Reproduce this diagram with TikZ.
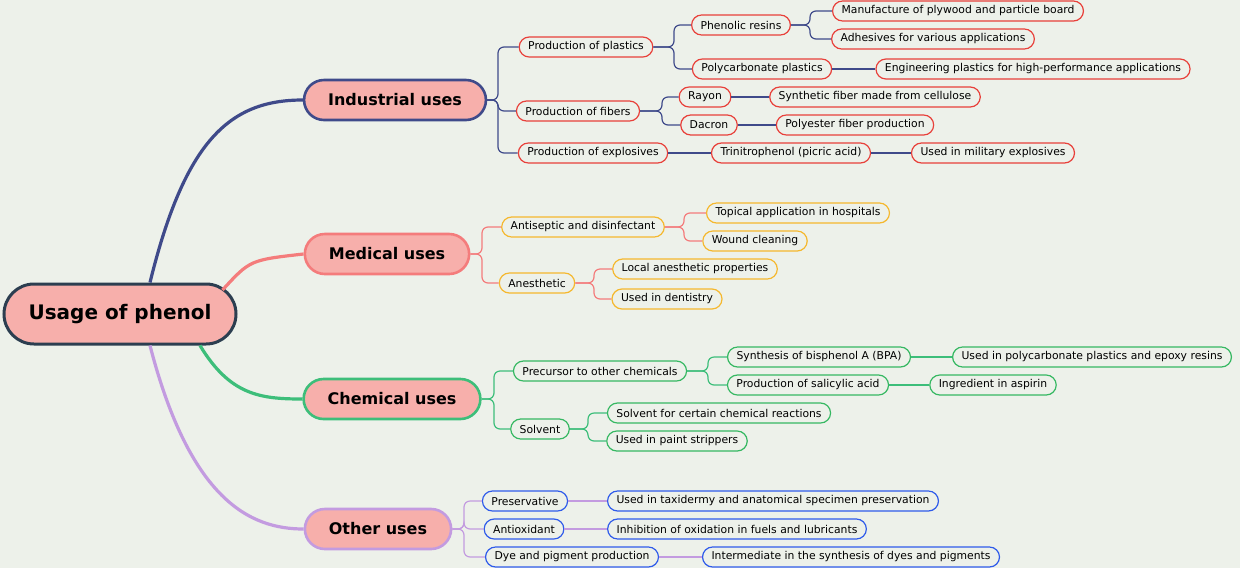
\documentclass[tikz,border=0pt]{standalone}
\usepackage{fontspec}
\setmainfont{DejaVu Sans}
\usetikzlibrary{calc,positioning}
\definecolor{bg}{HTML}{EDF1EA}
\definecolor{rootline}{HTML}{2C3E50}
\definecolor{pinkfill}{HTML}{F7AFAB}
\definecolor{indc}{HTML}{3F4A8A}
\definecolor{medc}{HTML}{F47C7C}
\definecolor{chemc}{HTML}{3DBE7A}
\definecolor{othc}{HTML}{C39BE0}
\definecolor{redleaf}{HTML}{E8403A}
\definecolor{orleaf}{HTML}{F5B82E}
\definecolor{grleaf}{HTML}{36B862}
\definecolor{blleaf}{HTML}{2F5BEA}
\tikzset{
  root/.style={draw=rootline, line width=1.5pt, fill=pinkfill, rounded corners=15pt,
    minimum width=116pt, minimum height=30pt, font=\fontsize{10}{12}\selectfont\bfseries},
  main/.style={line width=1.3pt, fill=pinkfill, rounded corners=10pt,
    minimum height=20pt, inner xsep=12pt, font=\fontsize{8}{10}\selectfont\bfseries},
  leaf/.style={line width=0.6pt, fill=bg, rounded corners=5pt,
    minimum height=10pt, inner xsep=4.5pt, inner ysep=1pt, font=\fontsize{5.4}{6.5}\selectfont},
  link/.style={line width=0.6pt, rounded corners=3pt},
  big/.style={line width=1.6pt}
}
\begin{document}
\begin{tikzpicture}[x=0.5pt, y=-0.5pt]
\fill[bg] (0,0) rectangle (1240,568);
\useasboundingbox (0,0) rectangle (1240,568);
% main nodes
\node[root] (root) at (120,314) {Usage of phenol};
\node[main, draw=indc] (ind) at (395,100) {Industrial uses};
\node[main, draw=medc] (med) at (387,254) {Medical uses};
\node[main, draw=chemc] (chem) at (392,399) {Chemical uses};
\node[main, draw=othc] (oth) at (378,529) {Other uses};
\draw[big, indc] ([xshift=15pt]root.north) .. controls (185,140) and (230,100) .. (ind.west);
\draw[big, medc] ([xshift=-7.5pt,yshift=12pt]root.east) .. controls (250,260) .. (med.west);
\draw[big, chemc] ([xshift=40pt]root.south) .. controls (230,395) and (260,399) .. (chem.west);
\draw[big, othc] ([xshift=15pt]root.south) .. controls (190,500) and (250,529) .. (oth.west);
% industrial
\begin{scope}[every node/.style={leaf, draw=redleaf}]
\node (pl) at (586,47) {Production of plastics};
\node (fib) at (578,111) {Production of fibers};
\node (exp) at (593,153) {Production of explosives};
\node (phr) at (741,25) {Phenolic resins};
\node (pcp) at (762,69) {Polycarbonate plastics};
\node (ply) at (958,11) {Manufacture of plywood and particle board};
\node (adh) at (933,39) {Adhesives for various applications};
\node (eng) at (1033,69) {Engineering plastics for high-performance applications};
\node (ray) at (705,97) {Rayon};
\node (dac) at (709,125) {Dacron};
\node (syn) at (875,97) {Synthetic fiber made from cellulose};
\node (pol) at (855,125) {Polyester fiber production};
\node (tnp) at (791,153) {Trinitrophenol (picric acid)};
\node (mil) at (993,153) {Used in military explosives};
\end{scope}
\begin{scope}[indc]
\foreach \c in {pl,fib,exp} \draw[link] (ind.east) -- (498,100) |- (\c.west);
\foreach \c in {phr,pcp} \draw[link] (pl.east) -- (674,47) |- (\c.west);
\foreach \c in {ply,adh} \draw[link] (phr.east) -- (810,25) |- (\c.west);
\foreach \c in {ray,dac} \draw[link] (fib.east) -- (662,111) |- (\c.west);
\draw[link] (pcp) -- (eng);
\draw[link] (ray) -- (syn);
\draw[link] (dac) -- (pol);
\draw[link] (exp) -- (tnp);
\draw[link] (tnp) -- (mil);
\end{scope}
% medical
\begin{scope}[every node/.style={leaf, draw=orleaf}]
\node (ant) at (583,227) {Antiseptic and disinfectant};
\node (ane) at (537,283) {Anesthetic};
\node (top) at (798,213) {Topical application in hospitals};
\node (wou) at (755,241) {Wound cleaning};
\node (loc) at (695,269) {Local anesthetic properties};
\node (den) at (667,299) {Used in dentistry};
\end{scope}
\begin{scope}[medc]
\foreach \c in {ant,ane} \draw[link] (med.east) -- (482,254) |- (\c.west);
\foreach \c in {top,wou} \draw[link] (ant.east) -- (684,227) |- (\c.west);
\foreach \c in {loc,den} \draw[link] (ane.east) -- (594,283) |- (\c.west);
\end{scope}
% chemical
\begin{scope}[every node/.style={leaf, draw=grleaf}]
\node (pre) at (600,371) {Precursor to other chemicals};
\node (sol) at (540,429) {Solvent};
\node (bpa) at (819,357) {Synthesis of bisphenol A (BPA)};
\node (sal) at (808,385) {Production of salicylic acid};
\node (epo) at (1092,357) {Used in polycarbonate plastics and epoxy resins};
\node (asp) at (993,385) {Ingredient in aspirin};
\node (rea) at (719,413) {Solvent for certain chemical reactions};
\node (pai) at (677,441) {Used in paint strippers};
\end{scope}
\begin{scope}[chemc]
\foreach \c in {pre,sol} \draw[link] (chem.east) -- (494,399) |- (\c.west);
\foreach \c in {bpa,sal} \draw[link] (pre.east) -- (708,371) |- (\c.west);
\foreach \c in {rea,pai} \draw[link] (sol.east) -- (588,429) |- (\c.west);
\draw[link] (bpa) -- (epo);
\draw[link] (sal) -- (asp);
\end{scope}
% other
\begin{scope}[every node/.style={leaf, draw=blleaf}]
\node (prs) at (525,501) {Preservative};
\node (aox) at (524,529) {Antioxidant};
\node (dye) at (572,557) {Dye and pigment production};
\node (tax) at (773,501) {Used in taxidermy and anatomical specimen preservation};
\node (inh) at (737,529) {Inhibition of oxidation in fuels and lubricants};
\node (itm) at (851,557) {Intermediate in the synthesis of dyes and pigments};
\end{scope}
\begin{scope}[othc]
\foreach \c in {prs,aox,dye} \draw[link] (oth.east) -- (464,529) |- (\c.west);
\draw[link] (prs) -- (tax);
\draw[link] (aox) -- (inh);
\draw[link] (dye) -- (itm);
\end{scope}
\end{tikzpicture}
\end{document}
